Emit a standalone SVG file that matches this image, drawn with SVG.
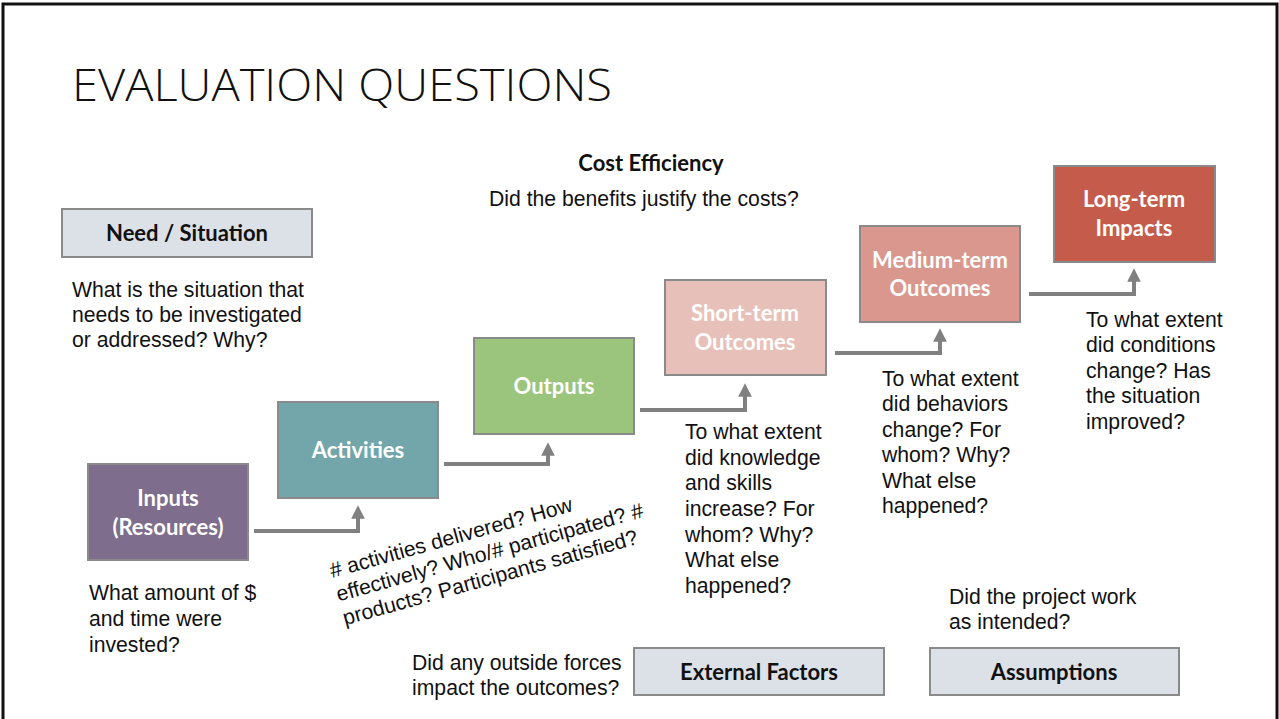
<svg xmlns="http://www.w3.org/2000/svg" width="1279" height="719" viewBox="0 0 1279 719">
<defs>
<style>
.q{font-family:"Liberation Sans",Arial,sans-serif;font-size:21.2px;fill:#111;}
.lb{font-family:Lato,"Open Sans",sans-serif;font-weight:bold;font-size:22px;text-anchor:middle;}
.w{fill:#fff;}
.k{fill:#111;}
.box{stroke:#8a8a8a;stroke-width:2;}
.grey{fill:#dce0e7;}
.conn{fill:none;stroke:#808080;stroke-width:4;}
</style>
<marker id="ah" viewBox="0 0 10 10" refX="5" refY="5" markerWidth="3.4" markerHeight="3.4" orient="auto" markerUnits="strokeWidth">
<path d="M0,0 L10,5 L0,10 z" fill="#808080"/>
</marker>
</defs>
<rect x="0" y="0" width="1279" height="719" fill="#fff"/>
<rect x="3" y="4" width="1274" height="730" fill="none" stroke="#111" stroke-width="3"/>
<text x="72" y="101" font-family="'Open Sans',Lato,sans-serif" font-weight="300" font-size="45" fill="#111" textLength="540" lengthAdjust="spacingAndGlyphs">EVALUATION QUESTIONS</text>

<g id="connectors">
<path class="conn" d="M254,531 H358 V512" marker-end="url(#ah)"/>
<path class="conn" d="M444,464 H548 V449" marker-end="url(#ah)"/>
<path class="conn" d="M640,410 H745 V390" marker-end="url(#ah)"/>
<path class="conn" d="M835,353 H940 V335" marker-end="url(#ah)"/>
<path class="conn" d="M1029,294 H1134 V275" marker-end="url(#ah)"/>
</g>

<g id="need">
<rect class="box grey" x="62" y="209" width="250" height="48"/>
<text class="lb k" x="187" y="241">Need / Situation</text>
<text class="q" x="72" y="297">What is the situation that</text>
<text class="q" x="72" y="322">needs to be investigated</text>
<text class="q" x="72" y="347">or addressed? Why?</text>
</g>

<g id="inputs">
<rect class="box" x="88" y="464" width="160" height="96" fill="#7e6d8c"/>
<text class="lb w" x="168" y="506">Inputs</text>
<text class="lb w" x="168" y="535">(Resources)</text>
<text class="q" x="89" y="600">What amount of $</text>
<text class="q" x="89" y="626">and time were</text>
<text class="q" x="89" y="652">invested?</text>
</g>

<g id="activities">
<rect class="box" x="278" y="402" width="160" height="96" fill="#72a6aa"/>
<text class="lb w" x="358" y="458">Activities</text>
<text class="q" transform="translate(332,578) rotate(-15.5)"><tspan x="0" y="0"># activities delivered? How</tspan><tspan x="0" y="24.5">effectively? Who/# participated? #</tspan><tspan x="0" y="49">products? Participants satisfied?</tspan></text>
</g>

<g id="outputs">
<rect class="box" x="474" y="338" width="160" height="96" fill="#9bc47d"/>
<text class="lb w" x="554" y="394">Outputs</text>
</g>

<g id="short-term">
<rect class="box" x="665" y="280" width="161" height="95" fill="#e8c0ba"/>
<text class="lb w" x="745" y="321">Short-term</text>
<text class="lb w" x="745" y="350">Outcomes</text>
<text class="q" x="685" y="439">To what extent</text>
<text class="q" x="685" y="465">did knowledge</text>
<text class="q" x="685" y="490">and skills</text>
<text class="q" x="685" y="516">increase? For</text>
<text class="q" x="685" y="542">whom? Why?</text>
<text class="q" x="685" y="567">What else</text>
<text class="q" x="685" y="593">happened?</text>
</g>

<g id="medium-term">
<rect class="box" x="860" y="226" width="160" height="96" fill="#d9978d"/>
<text class="lb w" x="940" y="268">Medium-term</text>
<text class="lb w" x="940" y="296">Outcomes</text>
<text class="q" x="882" y="386">To what extent</text>
<text class="q" x="882" y="411">did behaviors</text>
<text class="q" x="882" y="437">change? For</text>
<text class="q" x="882" y="462">whom? Why?</text>
<text class="q" x="882" y="488">What else</text>
<text class="q" x="882" y="513">happened?</text>
</g>

<g id="long-term">
<rect class="box" x="1054" y="166" width="161" height="96" fill="#c55b4b"/>
<text class="lb w" x="1134" y="207">Long-term</text>
<text class="lb w" x="1134" y="236">Impacts</text>
<text class="q" x="1086" y="327">To what extent</text>
<text class="q" x="1086" y="352">did conditions</text>
<text class="q" x="1086" y="378">change? Has</text>
<text class="q" x="1086" y="403">the situation</text>
<text class="q" x="1086" y="429">improved?</text>
</g>

<g id="cost-efficiency">
<text class="lb k" x="651" y="171">Cost Efficiency</text>
<text class="q" x="489" y="206">Did the benefits justify the costs?</text>
</g>

<g id="external-factors">
<text class="q" x="412" y="670">Did any outside forces</text>
<text class="q" x="412" y="695">impact the outcomes?</text>
<rect class="box grey" x="634" y="648" width="250" height="47"/>
<text class="lb k" x="759" y="680">External Factors</text>
</g>

<g id="assumptions">
<text class="q" x="949" y="604">Did the project work</text>
<text class="q" x="949" y="629">as intended?</text>
<rect class="box grey" x="930" y="648" width="249" height="47"/>
<text class="lb k" x="1054" y="680">Assumptions</text>
</g>
</svg>
